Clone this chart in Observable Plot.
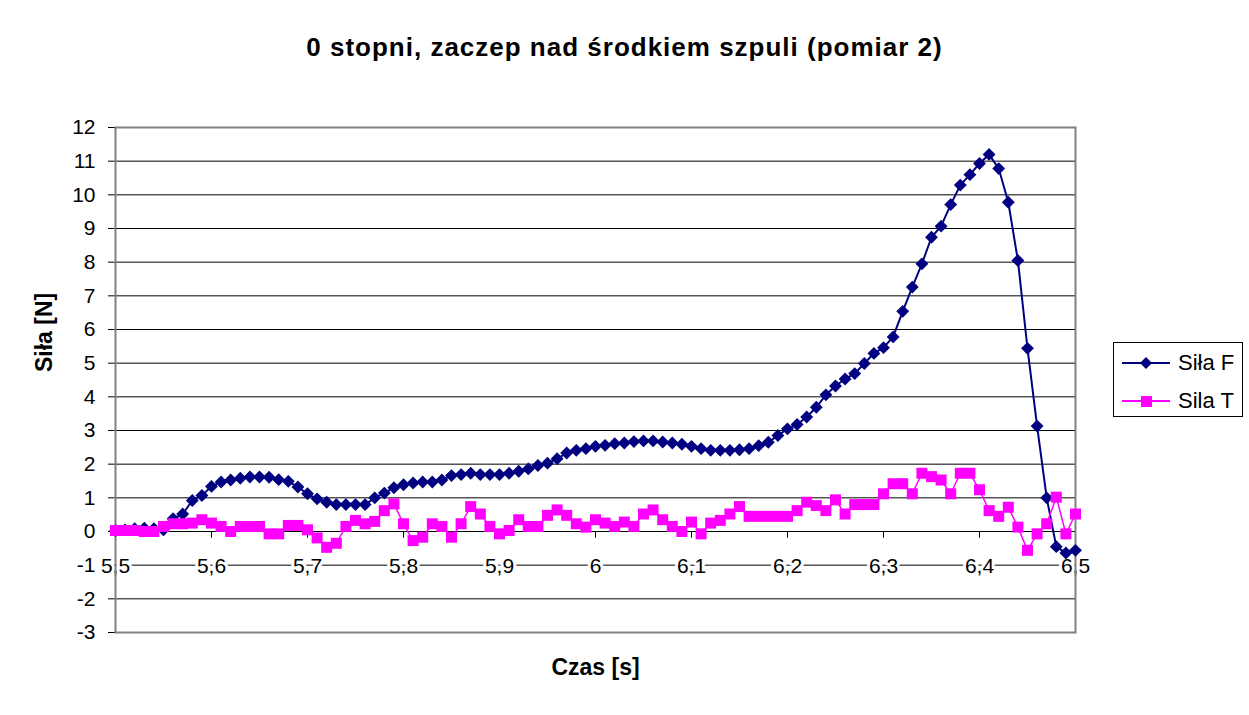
<!DOCTYPE html>
<html>
<head>
<meta charset="utf-8">
<script src="https://cdn.jsdelivr.net/npm/d3@7"></script>
<script src="https://cdn.jsdelivr.net/npm/@observablehq/plot@0.6"></script>
<style>
  body { margin: 0; background: white; }
  #wrap { position: relative; width: 1249px; height: 715px; font-family: "Liberation Sans", Arial, sans-serif; }
  #chart { position: absolute; left: 0; top: 0; }
  #title { position: absolute; left: 0; top: 34px; width: 1249px; text-align: center; font-weight: bold; font-size: 26px; line-height: 26px; letter-spacing: 1px; }
  #legend { position: absolute; left: 1113px; top: 342px; width: 130px; height: 75px; box-sizing: border-box; border: 1px solid black; background: white; }
  .row { position: absolute; left: 8px; height: 24px; display: flex; align-items: center; font-size: 22px; }
  .row svg { margin-right: 6px; }
</style>
</head>
<body>
<div id="wrap">
  <div id="chart"></div>
  <div id="title">0 stopni, zaczep nad środkiem szpuli (pomiar 2)</div>
  <div id="legend">
    <div class="row" style="top:8px"><svg width="50" height="20"><line x1="0" y1="10" x2="48" y2="10" stroke="#000080" stroke-width="2"/><polygon points="24,4 30,10 24,16 18,10" fill="#000080"/></svg>Siła F</div>
    <div class="row" style="top:46px"><svg width="50" height="20"><line x1="0" y1="10" x2="48" y2="10" stroke="#FF00FF" stroke-width="2"/><rect x="19" y="5" width="11" height="11" fill="#FF00FF"/></svg>Sila T</div>
  </div>
</div>
<script>
// sampling: 5.50 s to 6.50 s every 0.01 s
const t0 = 5.5;
const dt = 0.01;

const silaF = [
  0.03, 0.05, 0.08, 0.1, 0.08, 0.05, 0.38, 0.52, 0.92, 1.07,
  1.34, 1.47, 1.53, 1.58, 1.62, 1.62, 1.61, 1.54, 1.49, 1.32,
  1.12, 0.97, 0.87, 0.8, 0.8, 0.8, 0.8, 1.0, 1.14, 1.3,
  1.39, 1.44, 1.47, 1.47, 1.53, 1.66, 1.69, 1.73, 1.69, 1.69,
  1.69, 1.73, 1.79, 1.86, 1.96, 2.03, 2.16, 2.33, 2.41, 2.46,
  2.53, 2.56, 2.61, 2.63, 2.67, 2.69, 2.69, 2.66, 2.63, 2.59,
  2.53, 2.46, 2.41, 2.41, 2.41, 2.43, 2.46, 2.55, 2.65, 2.85,
  3.05, 3.18, 3.4, 3.69, 4.06, 4.32, 4.53, 4.69, 4.99, 5.29,
  5.46, 5.78, 6.54, 7.26, 7.95, 8.74, 9.07, 9.71, 10.29, 10.6,
  10.93, 11.2, 10.78, 9.78, 8.05, 5.44, 3.13, 1.0, -0.45, -0.64,
  -0.56
];

const silaT = [
  0.03, 0.03, 0.03, 0.0, 0.0, 0.15, 0.23, 0.23, 0.25, 0.35,
  0.25, 0.15, 0.0, 0.15, 0.15, 0.15, -0.07, -0.07, 0.18, 0.18,
  0.05, -0.19, -0.47, -0.35, 0.15, 0.33, 0.23, 0.3, 0.62, 0.82,
  0.23, -0.27, -0.17, 0.23, 0.15, -0.17, 0.23, 0.74, 0.52, 0.15,
  -0.07, 0.03, 0.35, 0.15, 0.15, 0.48, 0.64, 0.48, 0.23, 0.13,
  0.35, 0.25, 0.15, 0.28, 0.15, 0.52, 0.64, 0.35, 0.15, 0.0,
  0.28, -0.07, 0.25, 0.33, 0.52, 0.74, 0.45, 0.45, 0.45, 0.45,
  0.45, 0.62, 0.87, 0.77, 0.62, 0.94, 0.52, 0.8, 0.8, 0.8,
  1.12, 1.42, 1.42, 1.12, 1.73, 1.63, 1.53, 1.12, 1.73, 1.73,
  1.24, 0.62, 0.45, 0.72, 0.13, -0.56, -0.07, 0.23, 1.02, -0.07,
  0.52
];

const xTicks = [5.5, 5.6, 5.7, 5.8, 5.9, 6.0, 6.1, 6.2, 6.3, 6.4, 6.5];
const yTicks = [-3, -2, -1, 0, 1, 2, 3, 4, 5, 6, 7, 8, 9, 10, 11, 12];

const dataF = silaF.map((v, i) => ({t: +(t0 + i * dt).toFixed(2), v}));
const dataT = silaT.map((v, i) => ({t: +(t0 + i * dt).toFixed(2), v}));

const fmt = d => String(d).replace(".", ",");

const plot = Plot.plot({
  width: 1249,
  height: 715,
  marginLeft: 115,
  marginRight: 174,
  marginTop: 127,
  marginBottom: 83,
  style: {fontFamily: "'Liberation Sans', Arial, sans-serif", fontSize: "21px", background: "white", color: "black"},
  x: {domain: [5.5, 6.5], axis: null},
  y: {domain: [-3, 12], axis: null},
  marks: [
    Plot.gridY(yTicks, {stroke: "black", strokeOpacity: 1, strokeWidth: 1}),
    Plot.axisY(yTicks, {tickSize: 7, tickPadding: 13, tickFormat: d => String(d), fontSize: 21, label: null}),
    Plot.ruleX(xTicks, {x: d => d, y1: 0, y2: -0.2, stroke: "black"}),
    Plot.text(xTicks, {x: d => d, y: 0, dy: 35, text: fmt, fontSize: 21, fill: "black", stroke: "white", strokeWidth: 6}),
    Plot.frame({stroke: "#808080", strokeWidth: 2}),
    Plot.line(dataF, {x: "t", y: "v", stroke: "#000080", strokeWidth: 2}),
    Plot.dot(dataF, {x: "t", y: "v", symbol: "diamond2", r: 5.8, fill: "#000080", stroke: "none"}),
    Plot.line(dataT, {x: "t", y: "v", stroke: "#FF00FF", strokeWidth: 1.5}),
    Plot.dot(dataT, {x: "t", y: "v", symbol: "square", r: 6.2, fill: "#FF00FF", stroke: "none"}),
    Plot.text(["Siła [N]"], {frameAnchor: "left", dx: -71, dy: -8, rotate: -90, text: d => d, fontSize: 23, fontWeight: "bold", fill: "black"}),
    Plot.text(["Czas [s]"], {frameAnchor: "bottom", dy: 42, text: d => d, fontSize: 23, fontWeight: "bold", fill: "black"})
  ]
});
document.getElementById("chart").appendChild(plot);
</script>
</body>
</html>
